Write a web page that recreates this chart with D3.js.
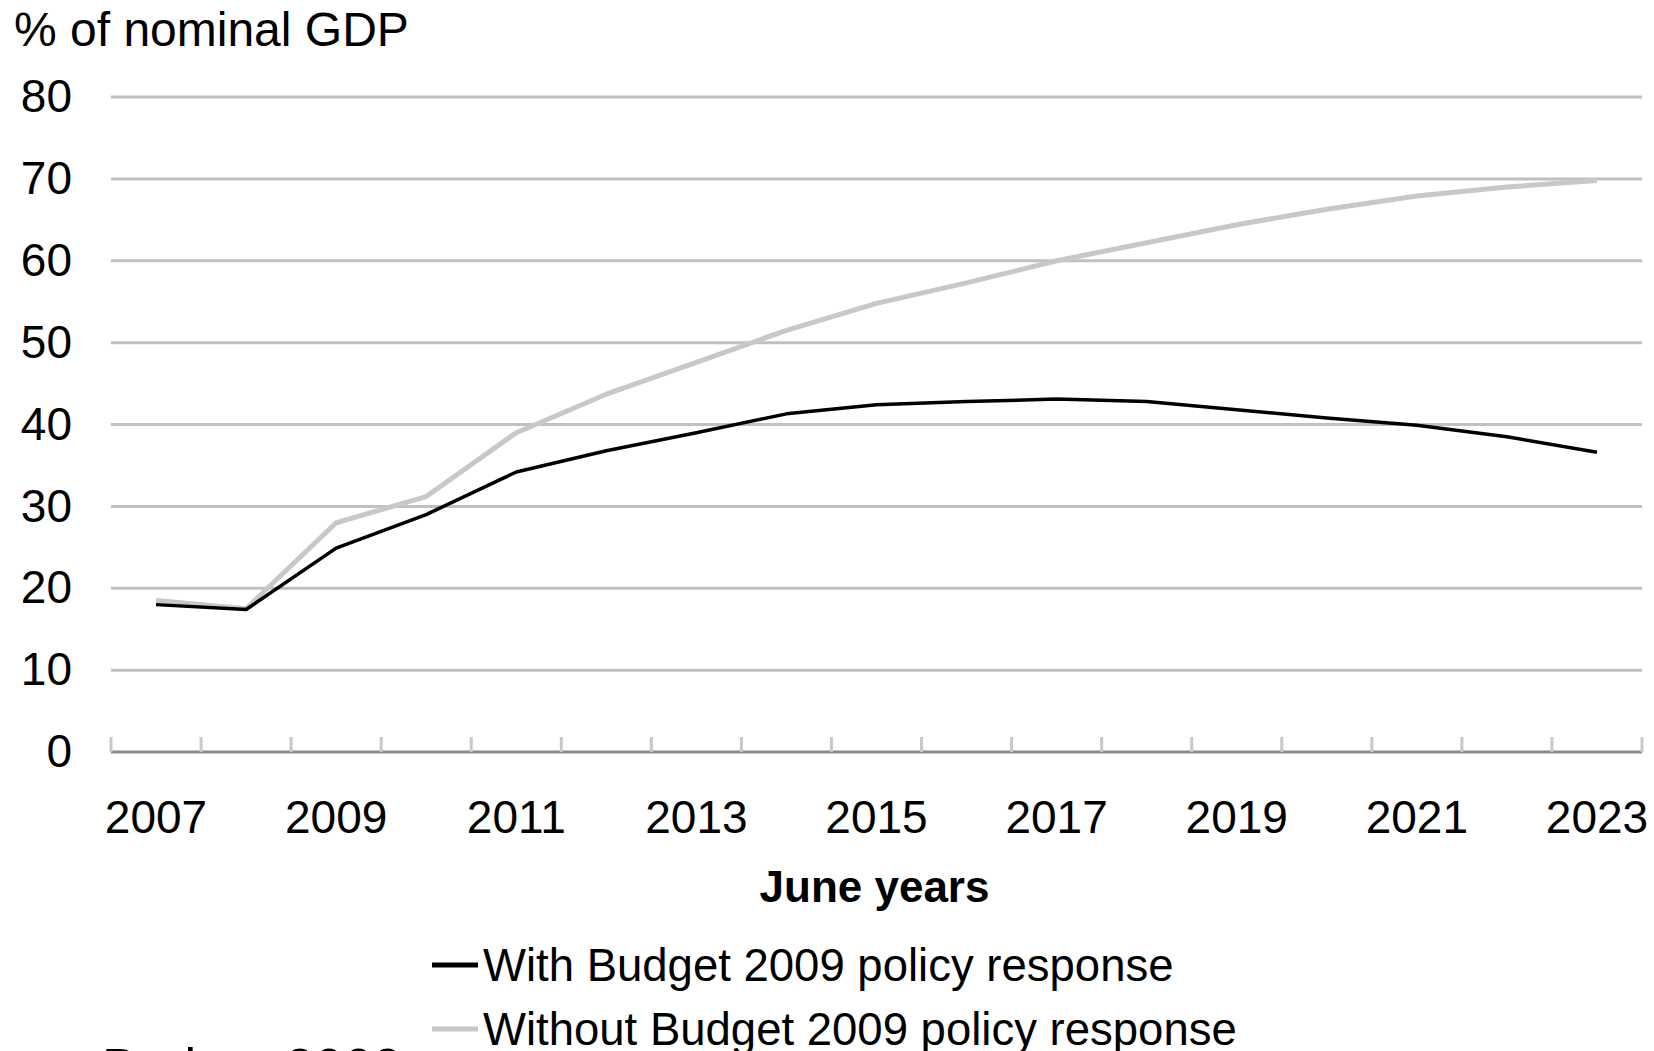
<!DOCTYPE html>
<html>
<head>
<meta charset="utf-8">
<script src="https://cdn.jsdelivr.net/npm/d3@7/dist/d3.min.js"></script>
<style>
  html, body { margin: 0; padding: 0; background: #fff; overflow: hidden; }
  svg { display: block; font-family: "Liberation Sans", Arial, sans-serif; }
</style>
</head>
<body>
<svg id="chart" width="1654" height="1051"></svg>
<script>
const years = ["2007","2008","2009","2010","2011","2012","2013","2014","2015","2016","2017","2018","2019","2020","2021","2022","2023"];
const labelYears = ["2007","2009","2011","2013","2015","2017","2019","2021","2023"];
const yTicks = [0,10,20,30,40,50,60,70,80];
const withBudget = [18.0,17.4,24.9,29.0,34.2,36.8,39.0,41.3,42.4,42.8,43.1,42.8,41.8,40.8,39.9,38.5,36.6];
const withoutBudget = [18.5,17.5,28.0,31.2,39.0,43.7,47.6,51.5,54.8,57.3,60.0,62.2,64.4,66.3,67.9,69.0,69.8];
const seriesNames = ["With Budget 2009 policy response","Without Budget 2009 policy response"];
const seriesColors = ["#000000","#c8c8c8"];

const svg = d3.select("#chart");
const pLeft = 111, pRight = 1642, pTop = 97, pBottom = 752;

const x = d3.scaleBand().domain(years).range([pLeft, pRight]).padding(0);
const y = d3.scaleLinear().domain([0, 80]).range([pBottom, pTop]);

// gridlines
svg.append("g")
  .selectAll("line")
  .data(yTicks.filter(d => d > 0))
  .join("line")
  .attr("x1", pLeft).attr("x2", pRight)
  .attr("y1", d => y(d)).attr("y2", d => y(d))
  .attr("stroke", "#c0c0c0").attr("stroke-width", 3);

// y axis labels
const yAxis = d3.axisLeft(y).tickValues(yTicks).tickSize(0).tickPadding(0).tickFormat(d3.format("d"));
const gy = svg.append("g").attr("transform", `translate(72,0)`).call(yAxis);
gy.select(".domain").remove();
gy.selectAll("text").attr("font-size", 46).attr("fill", "#000").attr("font-family", "Liberation Sans, Arial, sans-serif");

// x axis line
svg.append("line")
  .attr("x1", pLeft).attr("x2", pRight)
  .attr("y1", pBottom).attr("y2", pBottom)
  .attr("stroke", "#8a8a8a").attr("stroke-width", 3);

// category boundary ticks
const boundaries = years.map(d => x(d)).concat([x.range()[1]]);
svg.append("g").selectAll("line")
  .data(boundaries)
  .join("line")
  .attr("x1", d => d).attr("x2", d => d)
  .attr("y1", pBottom - 15).attr("y2", pBottom)
  .attr("stroke", "#c8c8c8").attr("stroke-width", 3);

// x labels
const xAxis = d3.axisBottom(x).tickValues(labelYears).tickSize(0).tickPadding(0);
const gx = svg.append("g").attr("transform", `translate(0,${pBottom})`).call(xAxis);
gx.select(".domain").remove();
gx.selectAll("text").attr("font-size", 46).attr("fill", "#000").attr("dy", null).attr("y", 81)
  .attr("font-family", "Liberation Sans, Arial, sans-serif");

// lines
const line = d3.line()
  .x((d, i) => x(years[i]) + x.bandwidth() / 2)
  .y(d => y(d));

svg.append("path").datum(withoutBudget)
  .attr("d", line).attr("fill", "none")
  .attr("stroke", seriesColors[1]).attr("stroke-width", 5).attr("stroke-linejoin", "round");
svg.append("path").datum(withBudget)
  .attr("d", line).attr("fill", "none")
  .attr("stroke", seriesColors[0]).attr("stroke-width", 3.5).attr("stroke-linejoin", "round");

// titles
svg.append("text").attr("x", 14).attr("y", 46)
  .attr("font-size", 48).attr("fill", "#000").text("% of nominal GDP");
svg.append("text").attr("x", (pLeft + pRight) / 2 - 2).attr("y", 902)
  .attr("text-anchor", "middle").attr("font-size", 44).attr("font-weight", "bold")
  .attr("fill", "#000").text("June years");

// legend
const legend = svg.append("g");
seriesNames.forEach((name, i) => {
  const ly = 965 + i * 64;
  legend.append("line").attr("x1", 432).attr("x2", 478).attr("y1", ly).attr("y2", ly)
    .attr("stroke", seriesColors[i]).attr("stroke-width", 5);
  legend.append("text").attr("x", 483).attr("y", ly).attr("dy", "0.36em")
    .attr("font-size", 45.5).attr("fill", "#000").text(name);
});

// cut-off caption at bottom (partially visible in the reference)
svg.append("text").attr("x", 102).attr("y", 1086)
  .attr("font-size", 53).attr("fill", "#000").text("Budget 2009");
</script>
</body>
</html>
